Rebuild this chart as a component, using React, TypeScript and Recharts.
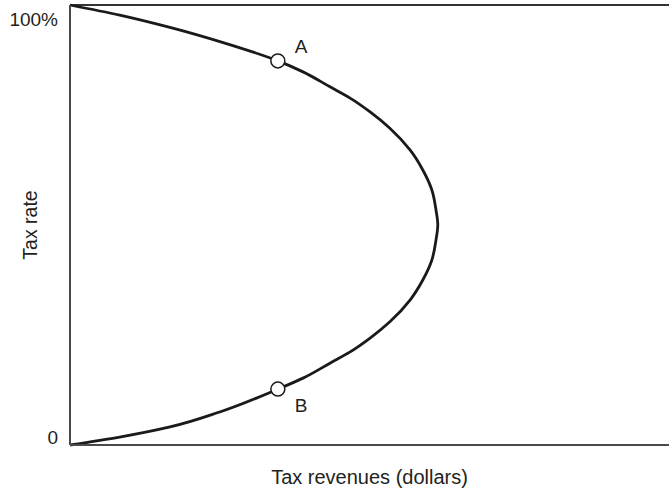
import { LineChart, Line, XAxis, YAxis, ReferenceLine, ReferenceDot } from "recharts";

// Laffer curve: tax rate (%) vs tax revenues (arbitrary units, 0-100 across the plot)
const taxRates = [
  0, 1.8, 4.1, 7.5, 12.7, 15.2, 18.6, 21.1, 24.3, 28.0, 33.0, 37.5, 42.0, 46.6,
  50.0,
  53.4, 58.0, 62.5, 67.0, 72.0, 75.7, 78.9, 81.4, 84.8, 87.3, 91.4, 94.8, 97.7, 100,
];
const revenues = [
  0, 8.3, 16.7, 25.0, 34.7, 38.9, 43.4, 46.7, 50.1, 53.4, 56.8, 58.9, 60.4, 61.1,
  61.4,
  61.1, 60.4, 58.9, 56.8, 53.4, 50.1, 46.7, 43.4, 38.9, 34.7, 25.7, 17.0, 8.3, 0,
];

const markedLabels = ["A", "B"];
const markedRates = [87.3, 12.7];
const markedRevenues = [34.7, 34.7];

const rateTicks = [0, 100];
const rateTickLabels = ["0", "100%"];

const FONT = '"Liberation Sans", Arial, Helvetica, sans-serif';
const TEXT = "#231f20";

const data = taxRates.map((rate, i) => ({ rate, revenue: revenues[i] }));

function RateTick(props: any) {
  const { x, y, payload } = props;
  const idx = rateTicks.indexOf(payload.value);
  const label = rateTickLabels[idx] ?? String(payload.value);
  // top label sits just below the top line, the zero sits just above the axis
  const dy = payload.value === 100 ? 17 : -1;
  return (
    <text x={x - 4} y={y + dy} textAnchor="end" fontSize={19} fill={TEXT} fontFamily={FONT}>
      {label}
    </text>
  );
}

function PointLabel(props: any) {
  const { viewBox, value, below } = props;
  const cx = viewBox.x + viewBox.width / 2;
  const cy = viewBox.y + viewBox.height / 2;
  return (
    <text x={cx + 17} y={below ? cy + 23 : cy - 8} fontSize={19} fill={TEXT} fontFamily={FONT}>
      {value}
    </text>
  );
}

function XTitle(props: any) {
  const { viewBox } = props;
  return (
    <text x={viewBox.x + viewBox.width / 2} y={viewBox.y + 39} textAnchor="middle" fontSize={20} fill={TEXT} fontFamily={FONT}>
      Tax revenues (dollars)
    </text>
  );
}

function YTitle(props: any) {
  const { viewBox } = props;
  const x = viewBox.x + 37;
  const y = viewBox.y + viewBox.height / 2;
  return (
    <text x={x} y={y} transform={`rotate(-90 ${x} ${y})`} textAnchor="middle" fontSize={19.5} fill={TEXT} fontFamily={FONT}>
      Tax rate
    </text>
  );
}

export default function App() {
  return (
    <div style={{ position: "absolute", left: 0, top: 0, width: 670, height: 492, background: "#fff" }}>
      <LineChart
        layout="vertical"
        width={670}
        height={492}
        data={data}
        margin={{ top: 5, right: 1, bottom: 0, left: 0 }}
      >
        <XAxis
          type="number"
          dataKey="revenue"
          domain={[0, 100]}
          tick={false}
          tickLine={false}
          height={47}
          axisLine={{ stroke: "#4a4a4a", strokeWidth: 2 }}
          label={<XTitle />}
        />
        <YAxis
          type="number"
          dataKey="rate"
          domain={[0, 100]}
          reversed
          ticks={rateTicks}
          tick={<RateTick />}
          tickLine={false}
          width={70}
          axisLine={{ stroke: "#4a4a4a", strokeWidth: 2 }}
          label={<YTitle />}
        />
        <ReferenceLine y={100} stroke="#333" strokeWidth={2} />
        <Line
          type="monotone"
          dataKey="revenue"
          stroke="#1a1a1a"
          strokeWidth={2.8}
          dot={false}
          activeDot={false}
          isAnimationActive={false}
        />
        {markedLabels.map((name, i) => (
          <ReferenceDot
            key={name}
            x={markedRevenues[i]}
            y={markedRates[i]}
            r={7}
            fill="#fff"
            stroke="#1a1a1a"
            strokeWidth={1.5}
            label={<PointLabel value={name} below={i === 1} />}
          />
        ))}
      </LineChart>
    </div>
  );
}
